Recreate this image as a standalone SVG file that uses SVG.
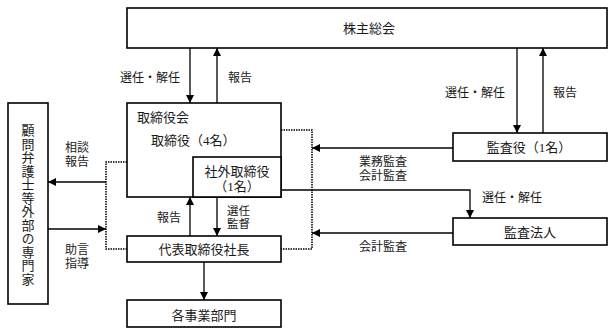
<svg xmlns="http://www.w3.org/2000/svg" width="615" height="335" viewBox="0 0 615 335">
<style>
.box{fill:#fff;stroke:#000;stroke-width:1.6}
.ln{fill:none;stroke:#000;stroke-width:1.3}
.dot{fill:none;stroke:#000;stroke-width:1.5;stroke-dasharray:1.5 1}
text{font-family:"Liberation Serif","Noto Sans CJK JP","Noto Sans CJK SC",serif;fill:#1a1a1a}
.n{font-size:13px}
.l{font-size:12px}
.s{font-size:11.5px}
.m{text-anchor:middle}
.v{writing-mode:vertical-rl;letter-spacing:0.5px}
</style>
<defs>
<marker id="ah" viewBox="0 0 10 10" refX="10" refY="5" markerWidth="9" markerHeight="8" markerUnits="userSpaceOnUse" orient="auto">
<path d="M0,0 L10,5 L0,10 z" fill="#000"/>
</marker>
</defs>
<rect width="615" height="335" fill="#fff"/>
<g id="connectors">
<path class="ln" d="M190,48 V103" marker-end="url(#ah)"/>
<path class="ln" d="M217,103 V48" marker-end="url(#ah)"/>
<path class="ln" d="M517,48 V133" marker-end="url(#ah)"/>
<path class="ln" d="M543,133 V48" marker-end="url(#ah)"/>
<path class="ln" d="M453,148 H312" marker-end="url(#ah)"/>
<path class="ln" d="M281,190 H470 V218" marker-end="url(#ah)"/>
<path class="ln" d="M453,233 H312" marker-end="url(#ah)"/>
<path class="ln" d="M190,236 V197" marker-end="url(#ah)"/>
<path class="ln" d="M217,197 V236" marker-end="url(#ah)"/>
<path class="ln" d="M204,262 V300" marker-end="url(#ah)"/>
<path class="ln" d="M106,182 H48" marker-end="url(#ah)"/>
<path class="ln" d="M48,229 H106" marker-end="url(#ah)"/>
<path class="dot" d="M281,130 H312 V249 H281"/>
<path class="dot" d="M127,162 H106 V249 H127"/>
<text class="l" x="120" y="81.5">選任・解任</text>
<text class="l" x="228" y="81.5">報告</text>
<text class="l" x="445" y="96.5">選任・解任</text>
<text class="l" x="553" y="96.5">報告</text>
<text class="l" x="359" y="166.3">業務監査<tspan x="359" dy="13.5">会計監査</tspan></text>
<text class="l" x="482" y="201.5">選任・解任</text>
<text class="l" x="359" y="250.5">会計監査</text>
<text class="l" x="65" y="152.3">相談<tspan x="65" dy="13.5">報告</tspan></text>
<text class="l" x="65" y="254.3">助言<tspan x="65" dy="13.5">指導</tspan></text>
<text class="l" x="157" y="221.5">報告</text>
<text class="s" x="227" y="214.8">選任<tspan x="227" dy="12.9">監督</tspan></text>
</g>
<g id="shareholders">
<rect class="box" x="127" y="8" width="480" height="40"/>
<text class="n" x="343" y="33">株主総会</text>
</g>
<g id="board">
<rect class="box" x="127" y="103" width="154" height="94"/>
<text class="n" x="137" y="122">取締役会</text>
<text class="n" x="151" y="145">取締役（4名）</text>
</g>
<g id="outside-director">
<rect class="box" x="193" y="157" width="88" height="40"/>
<text class="n m" x="237" y="176.3">社外取締役<tspan x="237" dy="14.5">（1名）</tspan></text>
</g>
<g id="auditor">
<rect class="box" x="453" y="133" width="154" height="28"/>
<text class="n m" x="529" y="152">監査役（1名）</text>
</g>
<g id="audit-firm">
<rect class="box" x="453" y="218" width="154" height="27"/>
<text class="n m" x="530" y="237">監査法人</text>
</g>
<g id="president">
<rect class="box" x="127" y="236" width="154" height="26"/>
<text class="n m" x="204" y="254">代表取締役社長</text>
</g>
<g id="divisions">
<rect class="box" x="127" y="300" width="154" height="27"/>
<text class="n m" x="204" y="320">各事業部門</text>
</g>
<g id="advisors">
<rect class="box" x="8" y="103" width="40" height="201"/>
<text class="n v" x="27" y="124">顧問弁護士等外部の専門家</text>
</g>
</svg>
